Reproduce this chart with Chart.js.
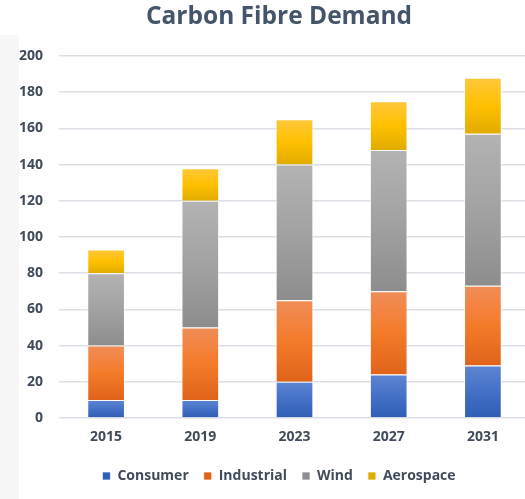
<!DOCTYPE html>
<html>
<head>
<meta charset="utf-8">
<script src="https://cdn.jsdelivr.net/npm/chart.js@4/dist/chart.umd.min.js"></script>
<style>
  html, body { margin: 0; padding: 0; overflow: hidden; background: #fff; }
  #strip { position: absolute; left: 0; top: 35px; width: 19px; height: 464px; background: #f7f7f7; }
  #wrap { position: relative; width: 558px; height: 499px; }
</style>
</head>
<body>
<div id="strip"></div>
<div id="wrap"><canvas id="chart"></canvas></div>
<script>
// ─── Data ───
const years = ['2015', '2019', '2023', '2027', '2031'];
const consumer = [10, 10, 20, 24, 29];
const industrial = [30, 40, 45, 46, 44];
const wind = [40, 70, 75, 78, 84];
const aerospace = [13, 18, 25, 27, 31];

const FONT = '"Open Sans", "DejaVu Sans", sans-serif';
const TEXT = '#414B5A';

// Excel-style vertical gradient per bar segment (light top, dark bottom)
function gradFill(solid, top, mid, bottom) {
  return c => {
    const ch = c.chart, y = ch.scales.y;
    if (c.type !== 'data' || !y) return solid;
    const sets = ch.data.datasets;
    let base = 0;
    for (let i = 0; i < c.datasetIndex; i++) base += sets[i].data[c.dataIndex];
    const val = base + sets[c.datasetIndex].data[c.dataIndex];
    const y0 = y.getPixelForValue(val), y1 = y.getPixelForValue(base);
    if (!isFinite(y0) || !isFinite(y1) || y0 === y1) return solid;
    const g = ch.ctx.createLinearGradient(0, y0, 0, y1);
    g.addColorStop(0, top);
    g.addColorStop(0.5, mid);
    g.addColorStop(1, bottom);
    return g;
  };
}

const series = [
  { label: 'Consumer', data: consumer, bg: gradFill('#4472C4', '#5D86D2', '#4470C6', '#2F5EB6') },
  { label: 'Industrial', data: industrial, bg: gradFill('#ED7D31', '#F18D58', '#F47B2A', '#E0631A') },
  { label: 'Wind', data: wind, bg: gradFill('#A5A5A5', '#B3B3B3', '#A2A2A2', '#8D8D8D') },
  { label: 'Aerospace', data: aerospace, bg: gradFill('#FFC000', '#FFC83C', '#FFC000', '#E1AC00') },
];

new Chart(document.getElementById('chart'), {
  type: 'bar',
  data: {
    labels: years,
    datasets: series.map(s => ({
      label: s.label, data: s.data, backgroundColor: s.bg,
      borderColor: 'rgba(255,255,255,0.7)', borderWidth: 1,
      barPercentage: 0.40, categoryPercentage: 1,
    })),
  },
  options: {
    responsive: true, maintainAspectRatio: false, animation: false,
    layout: { padding: { left: 0, right: 0, top: 0, bottom: 6 } },
    plugins: {
      title: { display: true, text: 'Carbon Fibre Demand', color: '#44546A', font: { family: FONT, size: 24.5, weight: 'bold' }, padding: { top: 2.5, bottom: 24 } },
      legend: { position: 'bottom', labels: { color: TEXT, boxWidth: 8, boxHeight: 8, padding: 15, font: { family: FONT, size: 14, weight: 'bold' } } },
      tooltip: { enabled: false },
    },
    scales: {
      x: {
        stacked: true,
        grid: { display: false, drawTicks: false }, border: { display: false },
        ticks: { color: TEXT, padding: 11, font: { family: FONT, size: 14, weight: 'bold' } },
        afterFit: s => { s.height = 36; },
      },
      y: {
        stacked: true, min: 0, max: 200,
        grid: { color: '#DCE0E6', lineWidth: 1.6, drawTicks: false }, border: { display: false },
        ticks: { stepSize: 20, color: TEXT, padding: 16, font: { family: FONT, size: 14, weight: 'bold' } },
        afterFit: s => { s.width = 59; },
      },
      yr: {
        position: 'right', display: true,
        grid: { display: false }, border: { display: false }, ticks: { display: false },
        afterFit: s => { s.width = 28; },
      },
    },
  },
});
</script>
</body>
</html>
